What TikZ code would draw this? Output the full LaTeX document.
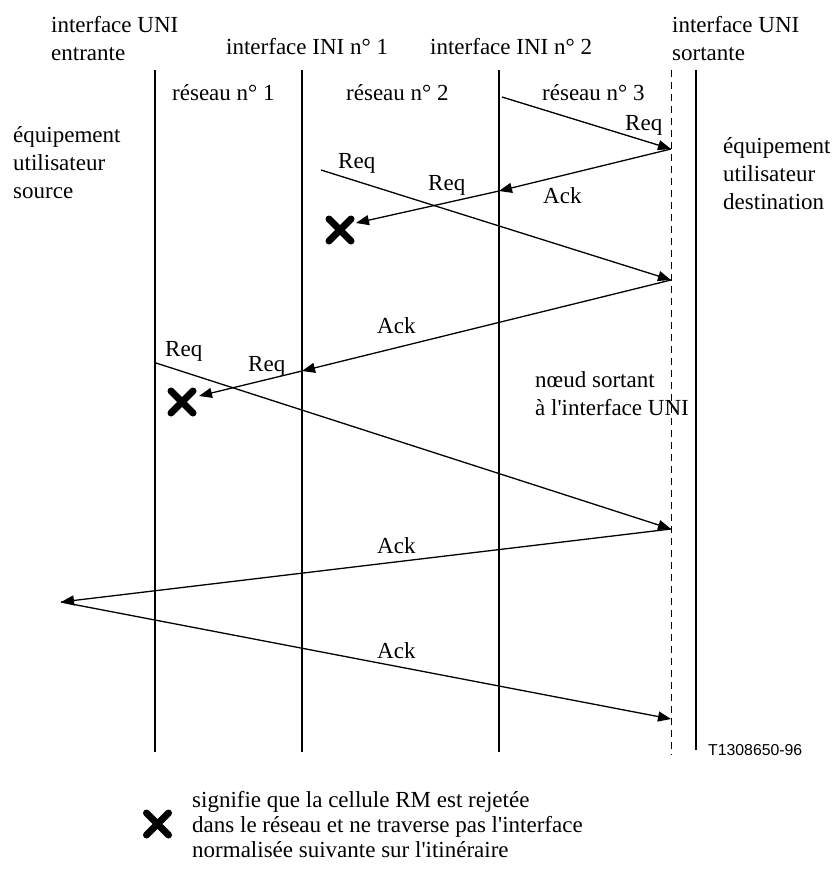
\documentclass[tikz,border=0pt]{standalone}
\usepackage{fontspec}
\setmainfont{Liberation Serif}[Ligatures=TeXOff]
\newfontfamily\refsans{Liberation Sans}
\usetikzlibrary{arrows.meta,calc}

\tikzset{
  lane/.style={line width=2.5pt},
  egress/.style={line width=1pt, dash pattern=on 7pt off 5pt},
  msg/.style={line width=1.3pt, -{Triangle[length=13pt,width=10pt]}},
  txt/.style={inner sep=0pt, anchor=base west, align=left,
              font=\fontsize{23}{28}\selectfont},
  legendtxt/.style={inner sep=0pt, anchor=base west, align=left,
              font=\fontsize{23}{25}\selectfont},
  reftxt/.style={inner sep=0pt, anchor=base west, font=\refsans\fontsize{15.8}{18}\selectfont},
  rejet/.pic={\draw[line width=7pt, line cap=round] (-11,-11) -- (11,11) (-11,11) -- (11,-11);}
}

\begin{document}
\begin{tikzpicture}[x=1pt,y=-1pt]
\useasboundingbox (0,0) rectangle (836,870);

% interfaces (vertical lanes)
\coordinate (uniInT) at (155,70);  \coordinate (uniInB) at (155,752);
\coordinate (ini1T)  at (302,70);  \coordinate (ini1B)  at (302,752);
\coordinate (ini2T)  at (499,70);  \coordinate (ini2B)  at (499,752);
\coordinate (nodeT)  at (671,70);  \coordinate (nodeB)  at (671,755);
\coordinate (uniOutT) at (696,70); \coordinate (uniOutB) at (696,750);
\draw[lane] (uniInT) -- (uniInB);
\draw[lane] (ini1T) -- (ini1B);
\draw[lane] (ini2T) -- (ini2B);
\draw[lane] (uniOutT) -- (uniOutB);
\draw[egress] (nodeT) -- (nodeB);

% headings (multi-line nodes are placed by their last baseline)
\node[txt] (hUniIn)  at (51,60)  {interface UNI\\entrante};
\node[txt] (hIni1)   at (226,54) {interface INI n° 1};
\node[txt] (hIni2)   at (430,54) {interface INI n° 2};
\node[txt] (hUniOut) at (672,60) {interface UNI\\sortante};
\node[txt] (net1) at (172,100) {réseau n° 1};
\node[txt] (net2) at (346,100) {réseau n° 2};
\node[txt] (net3) at (542,100) {réseau n° 3};
\node[txt] (src) at (13,198) {équipement\\utilisateur\\source};
\node[txt] (dst) at (723,209) {équipement\\utilisateur\\destination};
\node[txt] (egr) at (535,415) {nœud sortant\\à l'interface UNI};
\node[reftxt] (ref) at (708,755) {T1308650-96};

% message end points
\coordinate (s1) at (502,97);
\coordinate (t1) at (671,149);
\coordinate (k1) at (499,191);
\coordinate (r1) at (356,223);
\coordinate (s2) at (321,170);
\coordinate (t2) at (671,280);
\coordinate (k2) at (302,371);
\coordinate (r2) at (199,396);
\coordinate (s3) at (156,363);
\coordinate (t3) at (671,529);
\coordinate (k3) at (61,602);
\coordinate (t4) at (671,719);

% rejected cells
\coordinate (x1) at (340,230);
\coordinate (x2) at (182,402);
\pic at (x1) {rejet};
\pic at (x2) {rejet};

% messages
\draw[msg] (s1) -- (t1);
\draw[msg] (t1) -- (k1);
\draw[msg] (k1) -- (r1);
\draw[msg] (s2) -- (t2);
\draw[msg] (t2) -- (k2);
\draw[msg] (k2) -- (r2);
\draw[msg] (s3) -- (t3);
\draw[msg] (t3) -- (k3);
\draw[msg] (k3) -- (t4);

% message labels
\node[txt] (lq1) at (625,130) {Req};
\node[txt] (la1) at (543,203) {Ack};
\node[txt] (lq2) at (428,190) {Req};
\node[txt] (lq3) at (338,168) {Req};
\node[txt] (la2) at (377,333) {Ack};
\node[txt] (lq4) at (248,371) {Req};
\node[txt] (lq5) at (165,356) {Req};
\node[txt] (la3) at (377,553) {Ack};
\node[txt] (la4) at (377,658) {Ack};

% legend
\coordinate (xl) at (157.5,824);
\pic at (xl) {rejet};
\node[legendtxt] (leg) at (192,857) {signifie que la cellule RM est rejetée\\dans le réseau et ne traverse pas l'interface\\normalisée suivante sur l'itinéraire};
\end{tikzpicture}
\end{document}
